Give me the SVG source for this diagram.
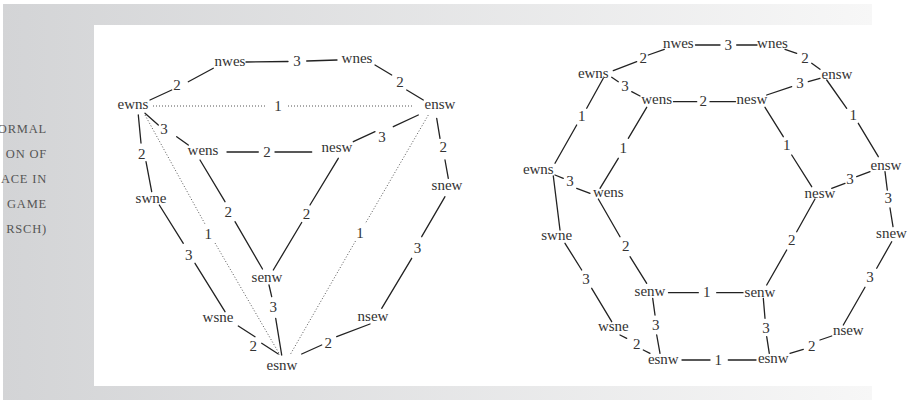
<svg xmlns="http://www.w3.org/2000/svg" width="909" height="400" viewBox="0 0 909 400">
<defs>
<linearGradient id="bg" x1="0" y1="0" x2="872" y2="0" gradientUnits="userSpaceOnUse">
<stop offset="0" stop-color="#d3d4d6"/>
<stop offset="1" stop-color="#f7f7f7"/>
</linearGradient>
</defs>
<style>
.e{stroke:#222;stroke-width:1.3;fill:none;stroke-linecap:round}
.d{stroke:#555;stroke-width:1;fill:none;stroke-dasharray:1 2}
.n{font-size:15px;fill:#333;text-anchor:middle}
.l{font-size:15px;fill:#333;text-anchor:middle}
.cap{font-size:12.5px;fill:#555;text-anchor:end;letter-spacing:0.8px}
</style>
<rect width="909" height="400" fill="#fff"/>
<rect x="3" y="4" width="869" height="396" fill="url(#bg)"/>
<rect x="94" y="25" width="815" height="361" fill="#fff"/>
<g font-family="Liberation Serif, Times New Roman, DejaVu Serif, serif">
<g id="caption">
<text class="cap" x="47" y="133">ORMAL</text>
<text class="cap" x="47" y="158">ON OF</text>
<text class="cap" x="47" y="183">ACE IN</text>
<text class="cap" x="47" y="208">GAME</text>
<text class="cap" x="47" y="233">RSCH)</text>
</g>
<g id="connectors">
<g><line class="e" x1="150" y1="100" x2="171.7" y2="90"/><line class="e" x1="188.3" y1="81.7" x2="213.3" y2="68.3"/><text class="l" x="177" y="89.5">2</text></g>
<g><line class="e" x1="246" y1="62" x2="288" y2="61.5"/><line class="e" x1="306.7" y1="61" x2="337" y2="60"/><text class="l" x="297" y="66">3</text></g>
<g><line class="e" x1="375" y1="65" x2="391.7" y2="75"/><line class="e" x1="406.7" y1="90" x2="423.3" y2="100"/><text class="l" x="400" y="86.5">2</text></g>
<g><line class="d" x1="153" y1="106" x2="267" y2="106"/><line class="d" x1="288" y1="106" x2="412" y2="106"/><text class="l" x="278" y="111">1</text></g>
<g><line class="e" x1="145" y1="113.3" x2="158.3" y2="125"/><line class="e" x1="176.7" y1="136.7" x2="188.3" y2="145"/><text class="l" x="164" y="134">3</text></g>
<g><line class="e" x1="227" y1="152" x2="258.3" y2="152"/><line class="e" x1="275" y1="152" x2="311.7" y2="152"/><text class="l" x="267" y="156.5">2</text></g>
<g><line class="e" x1="353.3" y1="141.7" x2="375" y2="131.7"/><line class="e" x1="393.3" y1="126.7" x2="418.3" y2="115"/><text class="l" x="382" y="141.5">3</text></g>
<g><line class="e" x1="138.3" y1="115" x2="141" y2="143"/><line class="e" x1="146" y1="161.7" x2="151.7" y2="191.7"/><text class="l" x="141.7" y="158.5">2</text></g>
<g><line class="e" x1="436.7" y1="118.3" x2="440" y2="138.3"/><line class="e" x1="445" y1="160" x2="448.3" y2="178.3"/><text class="l" x="443.3" y="152">2</text></g>
<g><line class="d" x1="145" y1="115" x2="205" y2="224"/><line class="d" x1="215" y1="243" x2="280" y2="355"/><text class="l" x="208.3" y="238.5">1</text></g>
<g><line class="d" x1="428.3" y1="115" x2="365" y2="224"/><line class="d" x1="355.5" y1="241" x2="290" y2="355"/><text class="l" x="360" y="237.5">1</text></g>
<g><line class="e" x1="200" y1="160" x2="225" y2="201.7"/><line class="e" x1="235" y1="221.7" x2="262.5" y2="269"/><text class="l" x="228.3" y="216.5">2</text></g>
<g><line class="e" x1="338.3" y1="158.3" x2="310" y2="205"/><line class="e" x1="301.7" y1="222.5" x2="273.3" y2="270"/><text class="l" x="306.5" y="218.5">2</text></g>
<g><line class="e" x1="269" y1="285" x2="271.7" y2="296.7"/><line class="e" x1="275.7" y1="318.3" x2="281.7" y2="355"/><text class="l" x="273.3" y="311.5">3</text></g>
<g><line class="e" x1="159.3" y1="205" x2="183.3" y2="243.3"/><line class="e" x1="195" y1="263.3" x2="225" y2="311.7"/><text class="l" x="188.8" y="259.5">3</text></g>
<g><line class="e" x1="238.3" y1="326" x2="255" y2="336.7"/><line class="e" x1="261.7" y1="343.3" x2="278.3" y2="354"/><text class="l" x="253.3" y="351">2</text></g>
<g><line class="e" x1="301.7" y1="354" x2="321.7" y2="345"/><line class="e" x1="336.7" y1="336.7" x2="370" y2="324"/><text class="l" x="328.3" y="348">2</text></g>
<g><line class="e" x1="445" y1="196.7" x2="421.7" y2="236.7"/><line class="e" x1="411.7" y1="258.3" x2="381.7" y2="308.3"/><text class="l" x="417.5" y="253">3</text></g>
<g><line class="e" x1="613.3" y1="70.7" x2="636.7" y2="61.7"/><line class="e" x1="648.3" y1="55" x2="664.3" y2="49.3"/><text class="l" x="643.3" y="63">2</text></g>
<g><line class="e" x1="695.5" y1="45" x2="720" y2="45"/><line class="e" x1="736.7" y1="45" x2="757" y2="45"/><text class="l" x="728.3" y="49.5">3</text></g>
<g><line class="e" x1="785" y1="49.3" x2="796.7" y2="53.3"/><line class="e" x1="811.7" y1="63.3" x2="820" y2="69.3"/><text class="l" x="805" y="63">2</text></g>
<g><line class="e" x1="611.7" y1="77.3" x2="618.3" y2="81.7"/><line class="e" x1="631.7" y1="91.7" x2="640" y2="96"/><text class="l" x="625" y="91.2">3</text></g>
<g><line class="e" x1="673.5" y1="101.7" x2="696.7" y2="101.7"/><line class="e" x1="710" y1="101.7" x2="735.5" y2="101.7"/><text class="l" x="703.3" y="106.2">2</text></g>
<g><line class="e" x1="766.7" y1="95" x2="791.7" y2="86.7"/><line class="e" x1="808.3" y1="81.7" x2="820" y2="78.3"/><text class="l" x="800" y="87.8">3</text></g>
<g><line class="e" x1="603.3" y1="78.3" x2="586.7" y2="108.3"/><line class="e" x1="576.7" y1="125" x2="555" y2="163.3"/><text class="l" x="581.7" y="121.2">1</text></g>
<g><line class="e" x1="646.7" y1="107.3" x2="628.3" y2="138.3"/><line class="e" x1="618.3" y1="158.3" x2="600" y2="188.3"/><text class="l" x="623.3" y="152.8">1</text></g>
<g><line class="e" x1="765" y1="107.3" x2="783.3" y2="136.7"/><line class="e" x1="791.7" y1="155" x2="811.7" y2="186.7"/><text class="l" x="786.7" y="149.5">1</text></g>
<g><line class="e" x1="826.7" y1="80" x2="846.7" y2="108.3"/><line class="e" x1="858.3" y1="123.3" x2="878.3" y2="156.7"/><text class="l" x="853.3" y="119.5">1</text></g>
<g><line class="e" x1="555" y1="175" x2="563.3" y2="178.3"/><line class="e" x1="576.7" y1="188.3" x2="590" y2="193.3"/><text class="l" x="570" y="186.2">3</text></g>
<g><line class="e" x1="831.7" y1="188.3" x2="845" y2="183.3"/><line class="e" x1="856.7" y1="176.7" x2="870" y2="171.7"/><text class="l" x="850" y="183.8">3</text></g>
<g><line class="e" x1="553.3" y1="176" x2="560" y2="230"/></g>
<g><line class="e" x1="885" y1="171.7" x2="887.3" y2="190"/><line class="e" x1="890" y1="208" x2="893" y2="226.7"/><text class="l" x="888.3" y="202.8">3</text></g>
<g><line class="e" x1="598.3" y1="199" x2="620" y2="236.7"/><line class="e" x1="630" y1="256.7" x2="646.7" y2="283.3"/><text class="l" x="625.7" y="251.2">2</text></g>
<g><line class="e" x1="815" y1="199" x2="796.7" y2="231.7"/><line class="e" x1="786.7" y1="250" x2="766.7" y2="285"/><text class="l" x="791.7" y="245.2">2</text></g>
<g><line class="e" x1="565" y1="243.3" x2="581.7" y2="270"/><line class="e" x1="591.7" y1="288.3" x2="611.7" y2="321.7"/><text class="l" x="586" y="283.8">3</text></g>
<g><line class="e" x1="891.7" y1="241.7" x2="876.7" y2="268.3"/><line class="e" x1="865" y1="287.3" x2="843.3" y2="325"/><text class="l" x="870" y="281.8">3</text></g>
<g><line class="e" x1="668.5" y1="292.7" x2="698.3" y2="292.7"/><line class="e" x1="716.7" y1="292.7" x2="743" y2="292.7"/><text class="l" x="706.7" y="297.2">1</text></g>
<g><line class="e" x1="652.7" y1="298.3" x2="655" y2="315"/><line class="e" x1="656.7" y1="335" x2="660" y2="353.3"/><text class="l" x="655.7" y="329.5">3</text></g>
<g><line class="e" x1="763.3" y1="298.3" x2="765" y2="318.3"/><line class="e" x1="766.7" y1="336.7" x2="769.3" y2="353.3"/><text class="l" x="766" y="332.8">3</text></g>
<g><line class="e" x1="620" y1="335" x2="626.7" y2="338.3"/><line class="e" x1="643.3" y1="350" x2="650" y2="353.3"/><text class="l" x="636.7" y="348.5">2</text></g>
<g><line class="e" x1="682" y1="360" x2="710" y2="360"/><line class="e" x1="728.3" y1="360" x2="756" y2="360"/><text class="l" x="718.3" y="364.5">1</text></g>
<g><line class="e" x1="790" y1="353.3" x2="803.3" y2="349.3"/><line class="e" x1="820" y1="340" x2="831.7" y2="336"/><text class="l" x="811.7" y="351.2">2</text></g>
</g>
<g id="L-ewns"><text class="n" x="133" y="108.5">ewns</text></g>
<g id="L-nwes"><text class="n" x="230" y="65.5">nwes</text></g>
<g id="L-wnes"><text class="n" x="357" y="62.5">wnes</text></g>
<g id="L-ensw"><text class="n" x="440" y="108.5">ensw</text></g>
<g id="L-wens"><text class="n" x="203" y="155">wens</text></g>
<g id="L-nesw"><text class="n" x="337" y="152">nesw</text></g>
<g id="L-swne"><text class="n" x="151" y="202.5">swne</text></g>
<g id="L-snew"><text class="n" x="447" y="190">snew</text></g>
<g id="L-senw"><text class="n" x="267" y="282">senw</text></g>
<g id="L-wsne"><text class="n" x="218" y="322">wsne</text></g>
<g id="L-nsew"><text class="n" x="373" y="320.5">nsew</text></g>
<g id="L-esnw"><text class="n" x="282" y="369.5">esnw</text></g>
<g id="R-nwes"><text class="n" x="678.3" y="47.5">nwes</text></g>
<g id="R-wnes"><text class="n" x="772.5" y="47.5">wnes</text></g>
<g id="R-ewns"><text class="n" x="593.3" y="77.5">ewns</text></g>
<g id="R-ensw"><text class="n" x="837" y="78.5">ensw</text></g>
<g id="R-wens"><text class="n" x="656.7" y="104.2">wens</text></g>
<g id="R-nesw"><text class="n" x="752" y="104.2">nesw</text></g>
<g id="R-ewns2"><text class="n" x="538.3" y="174.2">ewns</text></g>
<g id="R-wens2"><text class="n" x="608.3" y="196.8">wens</text></g>
<g id="R-nesw2"><text class="n" x="820" y="197.5">nesw</text></g>
<g id="R-ensw2"><text class="n" x="886" y="170.2">ensw</text></g>
<g id="R-swne"><text class="n" x="556.7" y="240.2">swne</text></g>
<g id="R-snew"><text class="n" x="891.5" y="237.5">snew</text></g>
<g id="R-senw"><text class="n" x="650" y="296.2">senw</text></g>
<g id="R-senw2"><text class="n" x="760" y="296.8">senw</text></g>
<g id="R-wsne"><text class="n" x="613.3" y="330.8">wsne</text></g>
<g id="R-nsew"><text class="n" x="848.3" y="335.2">nsew</text></g>
<g id="R-esnw"><text class="n" x="663.3" y="363.5">esnw</text></g>
<g id="R-esnw2"><text class="n" x="773.3" y="362.8">esnw</text></g>
</g>
</svg>
